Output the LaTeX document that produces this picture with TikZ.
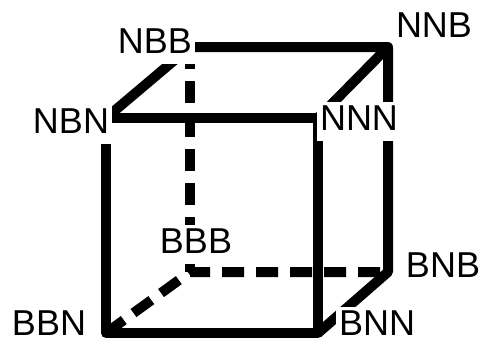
\documentclass[tikz,border=0pt]{standalone}
\usepackage{fontspec}
\setmainfont{Liberation Sans}

\tikzset{
  edge/.style={line width=10pt, line join=round},
  hidden/.style={edge, dash pattern=on 22pt off 12pt},
  lbl/.style={fill=white, anchor=base, inner sep=3pt, text depth=8pt,
    font=\fontsize{36}{40}\selectfont}
}

\begin{document}
\begin{tikzpicture}[x=1pt,y=-1pt]
        \useasboundingbox (0,0) rectangle (481,343);
        % corners of the cube
        \coordinate (bbn) at (106,333);
        \coordinate (bnn) at (318,333);
        \coordinate (nbn) at (106,118);
        \coordinate (nnn) at (318,118);
        \coordinate (bbb) at (190,272);
        \coordinate (bnb) at (388,272);
        \coordinate (nbb) at (190,47);
        \coordinate (nnb) at (388,47);
        % hidden edges
        \draw[hidden] (nbb) -- (bbb);
        \draw[hidden] (bbn) -- (bbb) -- (bnb);
        % visible edges
        \draw[edge] (nbn) -- (nbb) -- (nnb) -- (nnn);
        \draw[edge] (nnb) -- (bnb) -- (bnn);
        \draw[edge] (nbn) -- (nnn) -- (bnn) -- (bbn) -- cycle;
        % labels
        \node[lbl] (lnnb) at (434,37) {NNB};
        \node[lbl] (lnbb) at (155,53) {NBB};
        \node[lbl] (lnbn) at (71,133) {NBN};
        \node[lbl] (lnnn) at (359,130) {NNN};
        \node[lbl] (lbbb) at (196,253) {BBB};
        \node[lbl] (lbnb) at (443,277) {BNB};
        \node[lbl] (lbbn) at (49,335) {BBN};
        \node[lbl] (lbnn) at (377,335) {BNN};
\end{tikzpicture}
\end{document}
